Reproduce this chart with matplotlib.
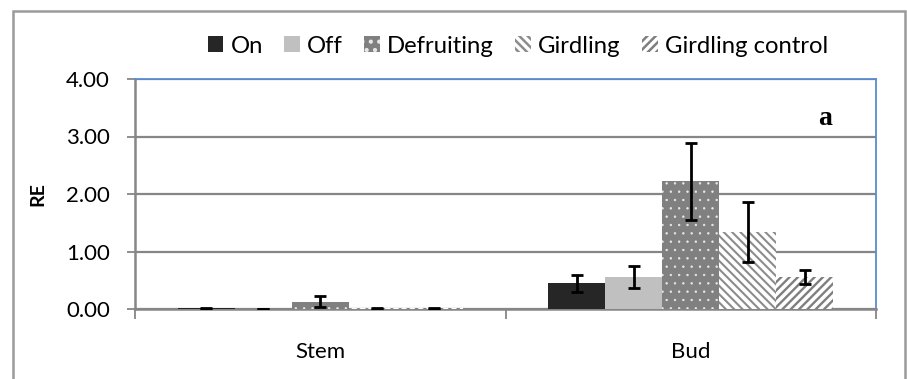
from matplotlib import pyplot as plt
from matplotlib.patches import Rectangle, Patch
import numpy as np

plt.rcParams['font.family'] = ['Lato', 'DejaVu Sans']
plt.rcParams['hatch.linewidth'] = 1.8

tissues = ['Stem', 'Bud']
treatments = ['On', 'Off', 'Defruiting', 'Girdling', 'Girdling control']

on_vals = [0.01, 0.45]
off_vals = [0.00, 0.56]
defruit_vals = [0.13, 2.22]
gird_vals = [0.01, 1.34]
gctrl_vals = [0.01, 0.56]

on_err = [0.005, 0.15]
off_err = [0.0, 0.19]
defruit_err = [0.09, 0.67]
gird_err = [0.005, 0.52]
gctrl_err = [0.005, 0.12]

values = [on_vals, off_vals, defruit_vals, gird_vals, gctrl_vals]
errors = [on_err, off_err, defruit_err, gird_err, gctrl_err]

# (face, hatch colour, hatch, hatch linewidth)
styles = [('#262626', '#262626', None, 1.8),
          ('#c0c0c0', '#c0c0c0', None, 1.8),
          ('#808080', '#e8e8e8', '..', 0.5),
          ('white', '#8c8c8c', '\\' * 4, 1.5),
          ('white', '#7f7f7f', '/' * 4, 1.7)]

fig = plt.figure(figsize=(9.07, 3.79), dpi=100)
ax = fig.add_axes([135/907, 1 - 309/379, (876-135)/907, (309-79)/379])

x_ind = np.arange(len(tissues))
width = 0.1538

for i, (vals, errs) in enumerate(zip(values, errors)):
    fc, hc, hatch, hlw = styles[i]
    pos = x_ind + (i - 2) * width
    with plt.rc_context({'hatch.linewidth': hlw}):
        ax.bar(pos, vals, width=width, color=fc, edgecolor=hc, linewidth=0,
               hatch=hatch, zorder=3)
    ax.errorbar(pos, vals, yerr=errs, fmt='none', ecolor='black',
                elinewidth=2, capsize=4.5, capthick=2, zorder=4)

ax.set_xlim(-0.5, 1.5)
ax.set_ylim(0, 4)
ax.set_yticks([0, 1, 2, 3, 4])
ax.set_yticklabels(['%.2f' % v for v in [0, 1, 2, 3, 4]], fontsize=16)
ax.tick_params(axis='y', length=6, width=1.3, color='#868686', pad=12)
ax.yaxis.grid(True, color='#868686', linewidth=1.6, zorder=0)
ax.set_axisbelow(True)

ax.set_xticks([-0.5, 0.5, 1.5])
ax.set_xticklabels([])
ax.tick_params(axis='x', which='major', length=7, width=1.3, color='#868686', direction='out')
ax.set_xticks(x_ind, minor=True)
ax.set_xticklabels(tissues, minor=True, fontsize=16)
ax.tick_params(axis='x', which='minor', length=0, pad=24)

for side in ['left', 'bottom']:
    ax.spines[side].set_color('#868686')
    ax.spines[side].set_linewidth(1.8)
for side in ['top', 'right']:
    ax.spines[side].set_color('#5b8bd0')
    ax.spines[side].set_linewidth(1.3)

ax.set_ylabel('RE', fontsize=14, fontweight='bold', labelpad=14)

ax.text(0.94, 0.83, 'a', transform=ax.transAxes, ha='right', va='center',
        fontsize=20, fontweight='bold', family='Liberation Serif')

## LEGEND
handles = []
for fc, hc, hatch, hlw in styles:
    with plt.rc_context({'hatch.linewidth': hlw}):
        handles.append(Patch(facecolor=fc, edgecolor=hc, linewidth=0, hatch=hatch))
fig.legend(handles, treatments, loc='center', bbox_to_anchor=(0.571, 0.878),
           ncol=5, frameon=False, fontsize=17.2, handlelength=0.65, handleheight=0.65,
           handletextpad=0.3, columnspacing=0.9)

# outer frame
fig.add_artist(Rectangle((13/907, -0.2), (905-13)/907, 1.2 - 11/379,
                         transform=fig.transFigure, fill=False,
                         edgecolor='#9a9a9a', linewidth=1.8, clip_on=False))

plt.savefig('out.png', dpi=100)
